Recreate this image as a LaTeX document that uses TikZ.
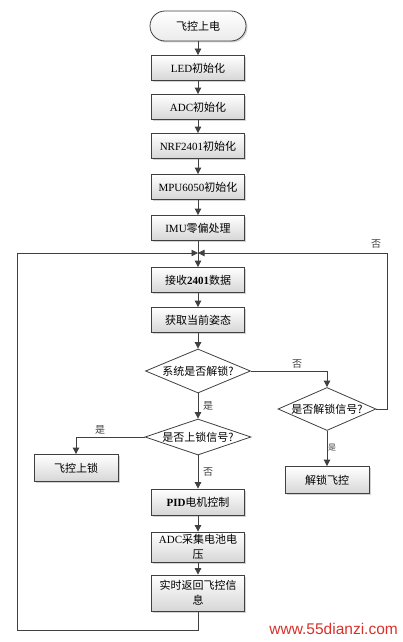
\documentclass[tikz,border=0pt]{standalone}
\usepackage{fontspec}
\setmainfont{Liberation Serif}
\newfontfamily\cjk{Noto Sans CJK SC}
\newfontfamily\wmfont{Liberation Sans}
\usetikzlibrary{shapes.geometric,shadows,arrows.meta}
\definecolor{ln}{HTML}{404040}
\definecolor{wm}{HTML}{D8302A}
\tikzset{
 box/.style={draw=ln, line width=0.8pt, top color=white, bottom color=black!16,
   minimum width=93pt, minimum height=25pt, inner sep=1pt, align=center,
   font=\fontsize{11}{15}\selectfont,
   drop shadow={opacity=0.35,shadow xshift=1.5pt,shadow yshift=-1.5pt}},
 term/.style={box, rounded corners=15pt, minimum width=96pt, minimum height=30pt, top color=white, bottom color=black!8},
 dec/.style={diamond, draw=ln, line width=0.8pt, fill=white, inner sep=0pt,
   minimum width=105pt, minimum height=44pt, font=\cjk\fontsize{11}{13}\selectfont},
 arr/.style={draw=ln, line width=0.8pt, -{Triangle[length=6.5pt,width=6.5pt]}},
 lbl/.style={font=\cjk\fontsize{10}{12}\selectfont, text=ln, inner sep=1pt}
}
\begin{document}
\begin{tikzpicture}[x=1pt,y=-1pt]
\useasboundingbox (0,0) rectangle (403,642);
\node[term] (s) at (198,26) {\cjk 飞控上电};
\node[box] (led) at (198,68) {LED{\cjk 初始化}};
\node[box] (adc) at (198,107) {ADC{\cjk 初始化}};
\node[box] (nrf) at (198,146) {NRF2401{\cjk 初始化}};
\node[box] (mpu) at (198,187) {MPU6050{\cjk 初始化}};
\node[box] (imu) at (198,228) {IMU{\cjk 零偏处理}};
\node[box] (rx) at (198,280) {{\cjk 接收}\textbf{2401}{\cjk 数据}};
\node[box] (att) at (198,320) {\cjk 获取当前姿态};
\node[dec] (d1) at (198,371) {\makebox[0pt]{系统是否解锁?}};
\node[dec, minimum width=98pt, minimum height=43pt] (d2) at (327,409) {\makebox[0pt]{是否解锁信号?}};
\node[dec, minimum width=106pt, minimum height=36pt] (d3) at (198,437) {\makebox[0pt]{是否上锁信号?}};
\node[box, minimum width=84pt, minimum height=27pt] (lock) at (76,468) {\cjk 飞控上锁};
\node[box, minimum width=84pt, minimum height=27pt] (unlock) at (327,480) {\cjk 解锁飞控};
\node[box, minimum height=26pt] (pid) at (198,502) {\textbf{PID}{\cjk 电机控制}};
\node[box, minimum height=30pt] (adc2) at (198,547) {ADC{\cjk 采集电池电}\\{\cjk 压}};
\node[box, minimum height=36pt] (rt) at (198,593) {{\cjk 实时返回飞控信}\\{\cjk 息}};
\coordinate (j) at (198,253);
\coordinate (bl) at (17,630);
\coordinate (r) at (387,253);
\draw[arr] (s) -- (led);
\draw[arr] (led) -- (adc);
\draw[arr] (adc) -- (nrf);
\draw[arr] (nrf) -- (mpu);
\draw[arr] (mpu) -- (imu);
\draw[arr] (imu) -- (rx);
\draw[arr] (rx) -- (att);
\draw[arr] (att) -- (d1);
\draw[arr] (d1.east) -| (d2.north);
\draw[arr] (d2.east) -| (r) -- (j);
\draw[arr] (d1.south) -- (d3.north);
\draw[arr] (d3.west) -| (lock.north);
\draw[arr] (d3.south) -- (pid.north);
\draw[arr] (d2.south) -- (unlock.north);
\draw[arr] (pid) -- (adc2);
\draw[arr] (adc2) -- (rt);
\draw[arr] (rt.south) |- (bl) |- (j);
\node[lbl] (l1) at (297,364) {否};
\node[lbl] (l2) at (376,244) {否};
\node[lbl] (l3) at (208,406) {是};
\node[lbl] (l4) at (100,430) {是};
\node[lbl] (l5) at (208,472) {否};
\node[lbl, font=\cjk\fontsize{8}{10}\selectfont] (l6) at (332,448) {是};
\node[text=wm, font=\wmfont\fontsize{15.5}{17}\selectfont, anchor=east, inner sep=0pt] (w) at (398,629) {www.55dianzi.com};
\end{tikzpicture}
\end{document}
